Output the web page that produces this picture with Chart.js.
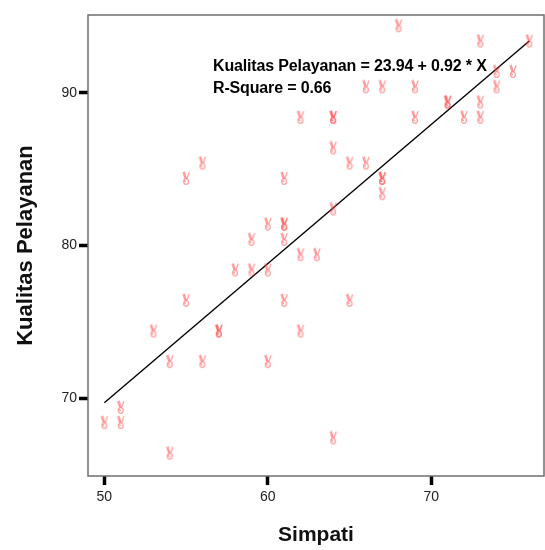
<!DOCTYPE html>
<html>
<head>
<title>Simpati vs Kualitas Pelayanan</title>
<script src="https://cdn.jsdelivr.net/npm/chart.js"></script>
<style>
    body { margin: 0; background: #fff; }
    #chart { display: block; }
</style>
</head>
<body>
<canvas id="chart" width="545" height="550"></canvas>
<script>
    // observed cases (duplicates listed twice)
    const simpati = [62, 56, 55, 61, 60, 61, 61, 59, 61, 62, 63, 58, 59, 60, 55, 61, 53, 57, 57, 62, 54,
        56, 60, 51, 50, 51, 54, 65, 64, 68, 73, 76, 74, 75, 66, 67, 69, 74, 71, 71, 73, 64,
        64, 69, 72, 73, 64, 65, 66, 67, 67, 67, 64];
    const kualitas = [88, 85, 84, 84, 81, 81, 81, 80, 80, 79, 79, 78, 78, 78, 76, 76, 74, 74, 74, 74, 72,
        72, 72, 69, 68, 68, 66, 76, 67, 94, 93, 93, 91, 91, 90, 90, 90, 90, 89, 89, 89, 88,
        88, 88, 88, 88, 86, 85, 85, 84, 84, 83, 82];

    // fit line end points as drawn
    const fitX = [50, 76];
    const fitY = [69.7, 93.4];

    const xTicks = [50, 60, 70];
    const yTicks = [70, 80, 90];

    const FONT = "'Liberation Sans', Arial, sans-serif";

    // small victory-hand marker, glyph sits a bit above the data point
    const marker = document.createElement('canvas');
    marker.width = 10;
    marker.height = 27;
    const m = marker.getContext('2d');
    m.strokeStyle = 'rgba(255, 70, 70, 0.6)';
    m.lineWidth = 1.1;
    m.lineCap = 'round';
    m.beginPath();
    // two fingers
    m.moveTo(2, 1.5); m.lineTo(4, 7.5);
    m.moveTo(3.3, 1); m.lineTo(5, 7);
    m.moveTo(8, 1.5); m.lineTo(5.8, 7.5);
    // palm
    m.moveTo(7.4, 10.5);
    m.ellipse(5, 10.5, 2.4, 2.8, 0, 0, Math.PI * 2);
    // thumb
    m.moveTo(2.6, 9); m.lineTo(4.6, 10.5);
    m.stroke();

    const framePlugin = {
        id: 'frame',
        afterDraw(chart) {
            const {ctx, chartArea: a} = chart;
            ctx.save();
            ctx.strokeStyle = '#6e6e6e';
            ctx.lineWidth = 1.5;
            ctx.strokeRect(a.left, a.top, a.right - a.left, a.bottom - a.top);

            ctx.fillStyle = '#000';
            ctx.font = 'bold 16px ' + FONT;
            ctx.textBaseline = 'alphabetic';
            ctx.letterSpacing = '-0.15px';
            ctx.fillText('Kualitas Pelayanan = 23.94 + 0.92 * X', 213, 71);
            ctx.fillText('R-Square = 0.66', 213, 93);
            ctx.restore();
        }
    };

    const points = simpati.map((v, i) => ({x: v, y: kualitas[i]}));
    const fitLine = fitX.map((v, i) => ({x: v, y: fitY[i]}));

    new Chart(document.getElementById('chart'), {
        type: 'scatter',
        data: {
            datasets: [
                {
                    label: 'Kualitas Pelayanan',
                    data: points,
                    pointStyle: marker,
                    pointRadius: 5
                },
                {
                    type: 'line',
                    label: 'Linear fit',
                    data: fitLine,
                    borderColor: '#000',
                    borderWidth: 1.4,
                    pointRadius: 0,
                    fill: false
                }
            ]
        },
        options: {
            responsive: false,
            animation: false,
            layout: {autoPadding: false, padding: {top: 15, right: 1, left: 0, bottom: 0}},
            plugins: {
                legend: {display: false},
                tooltip: {enabled: false}
            },
            scales: {
                x: {
                    type: 'linear',
                    min: 49,
                    max: 76.9,
                    afterFit: s => { s.height = 74; },
                    afterBuildTicks: s => { s.ticks = xTicks.map(v => ({value: v})); },
                    border: {display: false},
                    grid: {drawOnChartArea: false, tickLength: 9, tickWidth: 3.5, tickColor: '#000'},
                    ticks: {padding: 4, color: '#222', font: {family: FONT, size: 14}},
                    title: {
                        display: true,
                        text: 'Simpati',
                        color: '#111',
                        font: {family: FONT, size: 21, weight: 'bold'},
                        padding: {top: 0, bottom: 2}
                    }
                },
                y: {
                    type: 'linear',
                    min: 64.9,
                    max: 95.1,
                    afterFit: s => { s.width = 88; },
                    afterBuildTicks: s => { s.ticks = yTicks.map(v => ({value: v})); },
                    border: {display: false},
                    grid: {drawOnChartArea: false, tickLength: 9, tickWidth: 3.5, tickColor: '#000'},
                    ticks: {padding: 2, color: '#222', font: {family: FONT, size: 14}},
                    title: {
                        display: true,
                        text: 'Kualitas Pelayanan',
                        color: '#111',
                        font: {family: FONT, size: 22, weight: 'bold'},
                        padding: {top: 13, bottom: 0}
                    }
                }
            }
        },
        plugins: [framePlugin]
    });
</script>
</body>
</html>
